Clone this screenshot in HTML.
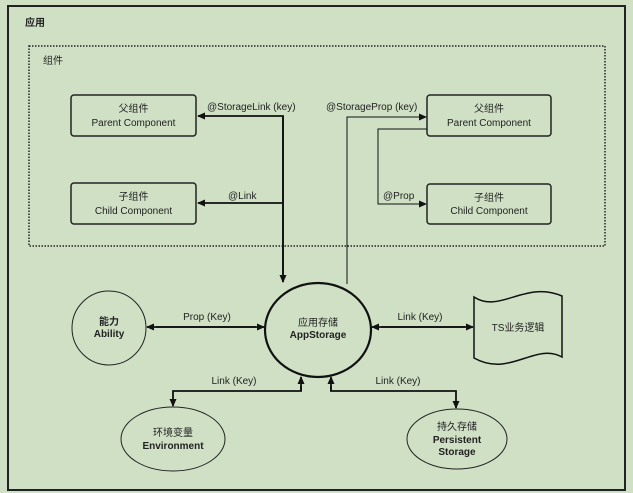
<!DOCTYPE html>
<html><head><meta charset="utf-8"><style>
html,body{margin:0;padding:0;background:#cfe0c5;}
svg{display:block;}
text{font-family:"Liberation Sans","Noto Sans CJK SC",sans-serif;font-size:10px;fill:#222;}
.b{font-weight:bold;}
</style></head><body>
<svg width="633" height="493" viewBox="0 0 633 493" xmlns="http://www.w3.org/2000/svg">
<defs>
<marker id="a" markerWidth="8" markerHeight="8" refX="7" refY="4" orient="auto" markerUnits="userSpaceOnUse"><path d="M0,0.5 L8,4 L0,7.5 Z" fill="#111"/></marker>
</defs>
<rect x="0" y="0" width="633" height="493" fill="#cfe0c5"/>
<rect x="8" y="6" width="617" height="484" fill="none" stroke="#222" stroke-width="2"/>
<text x="25" y="26" class="b">应用</text>
<rect x="29" y="46" width="576" height="200" fill="none" stroke="#222" stroke-width="1.5" stroke-dasharray="1.5,1.5"/>
<text x="43" y="64">组件</text>

<rect x="71" y="95" width="125" height="41" rx="3" fill="none" stroke="#222" stroke-width="1.5"/>
<text x="133.5" y="112" text-anchor="middle">父组件</text>
<text x="133.5" y="126" text-anchor="middle">Parent Component</text>
<rect x="71" y="183" width="125" height="41" rx="3" fill="none" stroke="#222" stroke-width="1.5"/>
<text x="133.5" y="200" text-anchor="middle">子组件</text>
<text x="133.5" y="214" text-anchor="middle">Child Component</text>
<rect x="427" y="95" width="124" height="41" rx="3" fill="none" stroke="#222" stroke-width="1.5"/>
<text x="489" y="112" text-anchor="middle">父组件</text>
<text x="489" y="126" text-anchor="middle">Parent Component</text>
<rect x="427" y="184" width="124" height="40" rx="3" fill="none" stroke="#222" stroke-width="1.5"/>
<text x="489" y="201" text-anchor="middle">子组件</text>
<text x="489" y="214" text-anchor="middle">Child Component</text>

<!-- left connectors -->
<path d="M283,282 L283,116 L198,116" fill="none" stroke="#111" stroke-width="1.8" marker-end="url(#a)"/>
<path d="M283,116 L283,282" fill="none" stroke="#111" stroke-width="1.8" marker-end="url(#a)"/>
<path d="M283,203 L198,203" fill="none" stroke="#111" stroke-width="1.8" marker-end="url(#a)"/>
<text x="207" y="110">@StorageLink (key)</text>
<text x="228" y="199">@Link</text>

<!-- right connectors -->
<path d="M347,284 L347,117 L426,117" fill="none" stroke="#111" stroke-width="1" marker-end="url(#a)"/>
<path d="M427,129 L378,129 L378,204 L426,204" fill="none" stroke="#111" stroke-width="1" marker-end="url(#a)"/>
<text x="326" y="110">@StorageProp (key)</text>
<text x="383" y="199">@Prop</text>

<!-- AppStorage -->
<ellipse cx="318" cy="330" rx="53" ry="47" fill="none" stroke="#111" stroke-width="2.2"/>
<text x="318" y="326" text-anchor="middle">应用存储</text>
<text x="318" y="338" text-anchor="middle" class="b">AppStorage</text>

<!-- Ability -->
<ellipse cx="109" cy="328" rx="37" ry="37" fill="none" stroke="#222" stroke-width="1"/>
<text x="109" y="325" text-anchor="middle" class="b">能力</text>
<text x="109" y="337" text-anchor="middle" class="b">Ability</text>
<path d="M156,327 L264,327" fill="none" stroke="#111" stroke-width="1.8" marker-end="url(#a)"/>
<path d="M256,327 L147,327" fill="none" stroke="#111" stroke-width="1.8" marker-end="url(#a)"/>
<text x="207" y="320" text-anchor="middle">Prop (Key)</text>

<!-- TS -->
<path d="M474,297 C500,314 525,280 562,296 L562,357 C535,342 510,378 474,358 Z" fill="none" stroke="#111" stroke-width="1.5"/>
<text x="518" y="331" text-anchor="middle">TS业务逻辑</text>
<path d="M381,327 L473,327" fill="none" stroke="#111" stroke-width="1.8" marker-end="url(#a)"/>
<path d="M465,327 L372,327" fill="none" stroke="#111" stroke-width="1.8" marker-end="url(#a)"/>
<text x="420" y="320" text-anchor="middle">Link (Key)</text>

<!-- Environment -->
<ellipse cx="173" cy="439" rx="52" ry="32" fill="none" stroke="#222" stroke-width="1"/>
<text x="173" y="436" text-anchor="middle">环境变量</text>
<text x="173" y="449" text-anchor="middle" class="b">Environment</text>
<path d="M301,386 L301,391 L173,391 L173,406" fill="none" stroke="#111" stroke-width="1.8" marker-end="url(#a)"/>
<path d="M301,391 L301,377" fill="none" stroke="#111" stroke-width="1.8" marker-end="url(#a)"/>
<text x="234" y="384" text-anchor="middle">Link (Key)</text>

<!-- Persistent -->
<ellipse cx="457" cy="439" rx="50" ry="30" fill="none" stroke="#222" stroke-width="1"/>
<text x="457" y="430" text-anchor="middle">持久存储</text>
<text x="457" y="443" text-anchor="middle" class="b">Persistent</text>
<text x="457" y="455" text-anchor="middle" class="b">Storage</text>
<path d="M331,386 L331,391 L456,391 L456,408" fill="none" stroke="#111" stroke-width="1.8" marker-end="url(#a)"/>
<path d="M331,391 L331,377" fill="none" stroke="#111" stroke-width="1.8" marker-end="url(#a)"/>
<text x="398" y="384" text-anchor="middle">Link (Key)</text>
</svg>
</body></html>
